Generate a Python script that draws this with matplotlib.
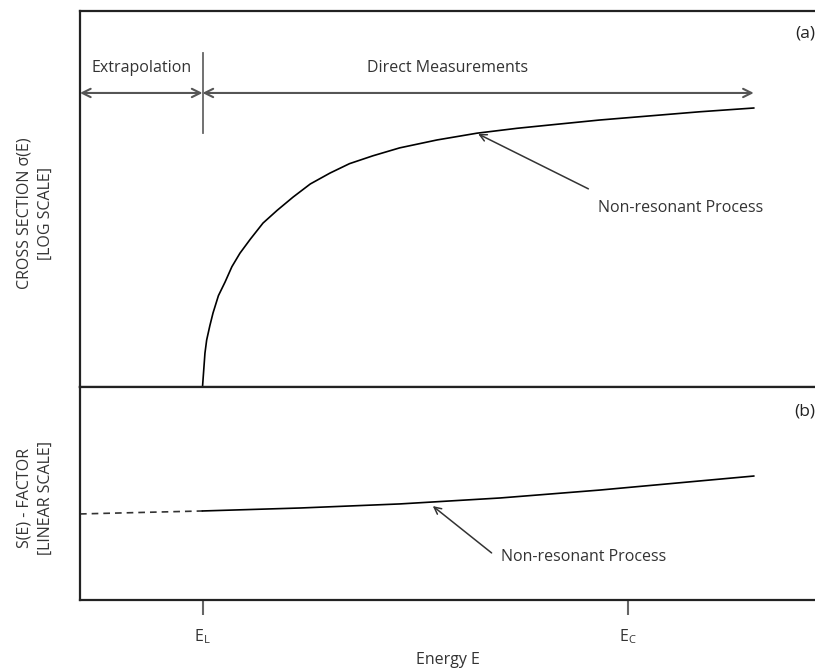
import numpy as np
import matplotlib
matplotlib.use("Agg")
import matplotlib.pyplot as plt

plt.rcParams['font.family'] = ['Open Sans', 'DejaVu Sans']
plt.rcParams['mathtext.fontset'] = 'custom'
plt.rcParams['mathtext.rm'] = 'Open Sans'
plt.rcParams['mathtext.it'] = 'Open Sans'

# energy axis (arbitrary units), E_L = 1
e_low = 1.0
e_c = 4.47
tick_pos = [e_low, e_c]
tick_labels = [r'E$_\mathrm{L}$', r'E$_\mathrm{C}$']

# (a) cross section, log scale (arbitrary units)
e_sigma = [1.0, 1.02, 1.034, 1.06, 1.086, 1.13, 1.184, 1.24, 1.306, 1.39, 1.494,
           1.61, 1.739, 1.88, 2.041, 2.2, 2.392, 2.61, 2.914, 3.24, 3.567, 3.84,
           4.24, 4.65, 5.06, 5.5]
sigma = [0.0, 0.09, 0.125, 0.163, 0.197, 0.243, 0.279, 0.32, 0.356, 0.393, 0.436,
         0.47, 0.505, 0.54, 0.569, 0.594, 0.615, 0.636, 0.657, 0.675, 0.688, 0.697,
         0.71, 0.721, 0.732, 0.742]

# (b) S-factor, linear scale
e_extrap = [0.0, 1.0]
s_extrap = [0.404, 0.418]
e_s = [1.0, 1.8, 2.61, 3.43, 4.24, 5.06, 5.5]
s_fac = [0.418, 0.432, 0.451, 0.479, 0.516, 0.559, 0.582]

e_max_meas = 5.5
edge = '#222222'
grey = '#555555'
txt = '#333333'

fig = plt.figure(figsize=(8.15, 6.71), dpi=100)
ax1 = fig.add_axes([80/815, 1-387/671, 1-80/815, 376/671])
ax2 = fig.add_axes([80/815, 1-600/671, 1-80/815, 213/671])

for ax in (ax1, ax2):
    ax.set_xlim(0, 6)
    ax.set_ylim(0, 1)
    ax.spines['right'].set_visible(False)
    for s in ('left', 'top', 'bottom'):
        ax.spines[s].set_linewidth(1.6)
        ax.spines[s].set_color(edge)
    ax.set_yticks([])

ax1.set_xticks([])
ax2.set_xticks(tick_pos)
ax2.set_xticklabels(tick_labels, fontsize=11.5, color=txt)
ax2.tick_params(axis='x', length=11, width=1.5, color='#666666', pad=9)
ax2.set_xlabel('Energy E', fontsize=11.5, labelpad=4, color=txt)

# top panel
ax1.plot(e_sigma, sigma, color='black', lw=1.2)
ax1.plot([e_low, e_low], [0.676, 0.888], color='#666666', lw=1.3)
arr = dict(arrowstyle='<->,head_length=0.6,head_width=0.3', color=grey, lw=1.5,
           shrinkA=0, shrinkB=0)
ax1.annotate('', xy=(0, 0.782), xytext=(e_low, 0.782), arrowprops=arr)
ax1.annotate('', xy=(e_low, 0.782), xytext=(e_max_meas, 0.782), arrowprops=arr)
ax1.text(e_low/2, 0.848, 'Extrapolation', ha='center', va='center', fontsize=11.5, color=txt)
ax1.text(3.0, 0.848, 'Direct Measurements', ha='center', va='center', fontsize=11.5, color=txt)
ax1.annotate('', xy=(3.25, 0.673), xytext=(4.15, 0.527),
             arrowprops=dict(arrowstyle='->,head_length=0.5,head_width=0.25',
                             color=txt, lw=1.1, shrinkA=0, shrinkB=0))
ax1.text(4.23, 0.476, 'Non-resonant Process', ha='left', va='center', fontsize=11.5, color=txt)
ax1.text(5.92, 0.939, '(a)', ha='center', va='center', fontsize=12.5, color=edge)

# bottom panel
ax2.plot(e_extrap, s_extrap, color=txt, lw=1.2, ls=(0, (4, 3)))
ax2.plot(e_s, s_fac, color='black', lw=1.2)
ax2.annotate('', xy=(2.88, 0.441), xytext=(3.36, 0.221),
             arrowprops=dict(arrowstyle='->,head_length=0.5,head_width=0.25',
                             color=txt, lw=1.1, shrinkA=0, shrinkB=0))
ax2.text(3.44, 0.202, 'Non-resonant Process', ha='left', va='center', fontsize=11.5, color=txt)
ax2.text(5.92, 0.887, '(b)', ha='center', va='center', fontsize=12.5, color=edge)

fig.text(35/815, 1-213/671, 'CROSS SECTION \u03c3(E)\n[LOG SCALE]', rotation=90,
         ha='center', va='center', fontsize=11.5, color=txt, linespacing=1.4,
         multialignment='center')
fig.text(35/815, 1-498/671, 'S(E) - FACTOR\n[LINEAR SCALE]', rotation=90,
         ha='center', va='center', fontsize=11.5, color=txt, linespacing=1.4,
         multialignment='center')

fig.savefig('out.png', dpi=100)
